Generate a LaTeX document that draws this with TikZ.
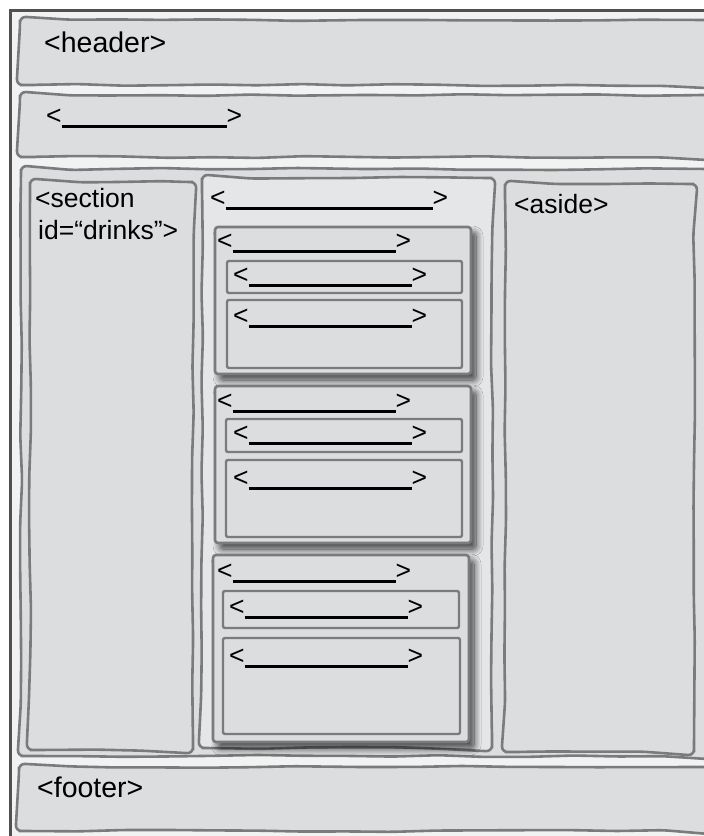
\documentclass[tikz,border=0pt]{standalone}
\usepackage{fontspec}
\setmainfont{Liberation Sans}
\usetikzlibrary{decorations.pathmorphing,shadows.blur}
\definecolor{frameBg}{RGB}{241,242,242}
\definecolor{boxFill}{RGB}{220,221,223}
\definecolor{colFill}{RGB}{229,230,232}
\definecolor{boxLine}{RGB}{122,123,125}
\definecolor{frameLine}{RGB}{80,80,80}
\newcommand{\blankW}[1]{<\rule[-0.15em]{#1}{0.105em}>}
% wobbly box: starts mid top edge so the closing joint is smooth
\newcommand{\wobblebox}[5][]{%
  \path[sketchbox,#1] ({(#2+#4)/2},#3) -- (#4,#3) -- (#4,#5) -- (#2,#5) -- (#2,#3) -- cycle;}
\begin{document}
\begin{tikzpicture}[x=1pt,y=-1pt,
  sketchbox/.style={draw=boxLine, line width=2.6pt, fill=boxFill, rounded corners=6pt,
    decorate, decoration={random steps, segment length=45pt, amplitude=1.1pt}},
  artbox/.style={draw=boxLine, line width=2.6pt, fill=boxFill, rounded corners=3pt,
    blur shadow={shadow xshift=5pt, shadow yshift=-6pt, shadow blur radius=7pt,
      shadow blur steps=12, shadow opacity=75}},
  subbox/.style={draw=boxLine, line width=2.4pt, fill=boxFill, rounded corners=2pt},
  lbl/.style={anchor=base west, inner sep=0pt, text=black, font=\fontsize{26.5}{32}\selectfont},
  biglbl/.style={lbl, font=\fontsize{28.5}{34}\selectfont}]
\pgfmathsetseed{11}
\useasboundingbox (0,0) rectangle (704,836);
\fill[white] (0,0) rectangle (704,836);
% outer frame
\fill[frameBg] (10,10) rectangle (704,836);
\draw[frameLine, line width=3pt] (10,836) -- (10,10) -- (704,10);
% header and nav
\wobblebox{20}{20}{714}{85}
\wobblebox{20}{95}{714}{157}
% main container
\wobblebox{21}{169}{714}{756}
% section
\wobblebox{30}{182}{193}{750}
% middle column
\wobblebox[fill=colFill]{202}{178}{492}{748}
% aside
\wobblebox{505}{184}{694}{752}
% articles
\draw[artbox] (215,227) rectangle (471,374);
\draw[subbox] (227,261) rectangle (462,293);
\draw[subbox] (227,300) rectangle (462,368);
\draw[artbox] (215,386) rectangle (471,543);
\draw[subbox] (226,419) rectangle (462,452);
\draw[subbox] (226,460) rectangle (462,537);
\draw[artbox] (213,555) rectangle (469,742);
\draw[subbox] (223,591) rectangle (459,628);
\draw[subbox] (223,638) rectangle (460,734);
% footer
\wobblebox{19}{767}{714}{831}
% texts
\node[biglbl] (hdr) at (44,52) {<header>};
\node[lbl] (nav) at (46,124) {\blankW{165pt}};
\node[lbl] (sec1) at (35,207) {<section};
\node[lbl] (sec2) at (38,239) {id=“drinks”>};
\node[lbl] (asd) at (514,213) {<aside>};
\node[biglbl] (ftr) at (37,797) {<footer>};
\node[lbl] (col) at (210,206) {\blankW{207pt}};
\node[lbl] (a1t) at (217,249) {\blankW{163pt}};
\node[lbl] (a1a) at (233,283) {\blankW{163pt}};
\node[lbl] (a1b) at (233,324) {\blankW{163pt}};
\node[lbl] (a2t) at (217,409) {\blankW{163pt}};
\node[lbl] (a2a) at (233,441) {\blankW{163pt}};
\node[lbl] (a2b) at (233,486) {\blankW{163pt}};
\node[lbl] (a3t) at (217,579) {\blankW{163pt}};
\node[lbl] (a3a) at (229,615) {\blankW{163pt}};
\node[lbl] (a3b) at (229,664) {\blankW{163pt}};
\end{tikzpicture}
\end{document}
